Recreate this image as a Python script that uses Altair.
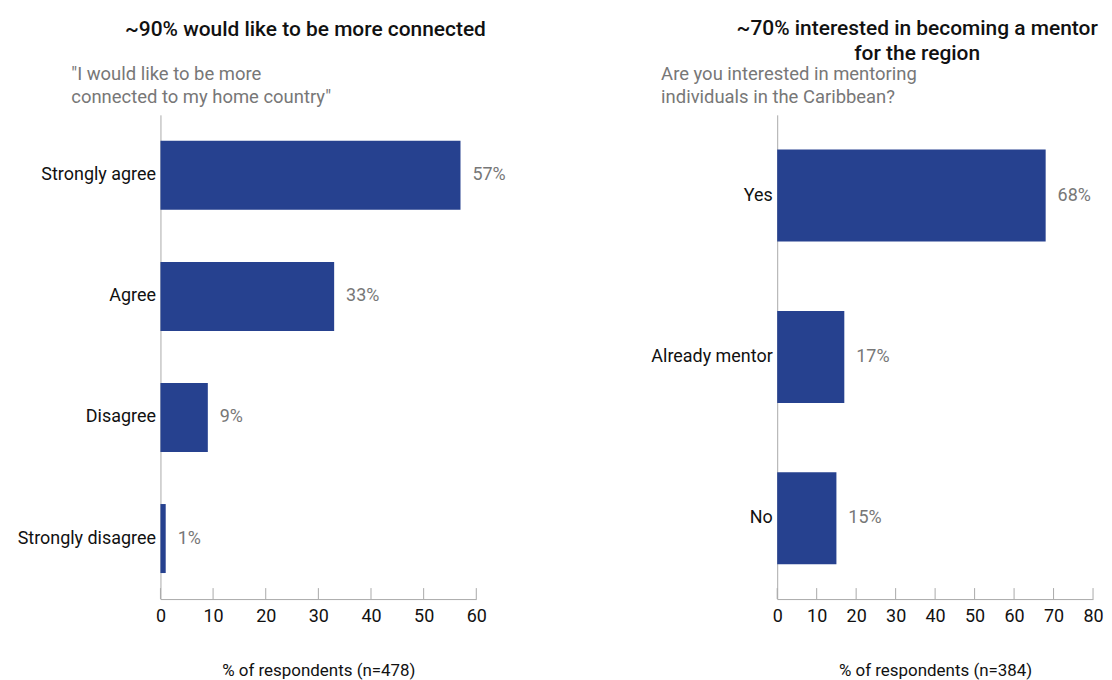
import altair as alt
import pandas as pd

# ---- data ----
left_categories = ["Strongly agree", "Agree", "Disagree", "Strongly disagree"]
left_values = [57, 33, 9, 1]
right_categories = ["Yes", "Already mentor", "No"]
right_values = [68, 17, 15]
left_ticks = [0, 10, 20, 30, 40, 50, 60]
right_ticks = [0, 10, 20, 30, 40, 50, 60, 70, 80]

FONT = "Roboto"
BAR = "#26418F"
GRAY_TEXT = "#777777"
AXIS_GRAY = "#AAAAAA"
W, H = 317, 486


def panel(cats, vals, ticks, xmax, title, subtitle, xtitle, sub_x, title_offset, title_dx):
    df = pd.DataFrame({"cat": cats, "val": vals})
    df["lab"] = df["val"].astype(str) + "%"
    tdf = pd.DataFrame({"t": ticks})
    xs = alt.Scale(domain=[0, xmax], nice=False, zero=True)
    ys = alt.Scale(domain=cats, paddingInner=0.43, paddingOuter=0.215)
    xaxis = alt.Axis(values=ticks, title=xtitle, grid=False, ticks=False,
                     domainColor=AXIS_GRAY, labelFont=FONT, labelFontSize=18,
                     labelColor="#111", labelPadding=9, labelOverlap=False,
                     labelFlush=False, labelSeparation=0, tickCount=len(ticks),
                     titleFont=FONT, titleFontSize=17, titleFontWeight="normal",
                     titleColor="#111", titlePadding=37)
    yaxis = alt.Axis(title=subtitle, ticks=False, domainColor=AXIS_GRAY,
                     labelFont=FONT, labelFontSize=18, labelColor="#111",
                     labelPadding=5, labelLimit=300,
                     titleAngle=0, titleAlign="left", titleBaseline="bottom",
                     titleX=sub_x, titleY=-31, titleFont=FONT,
                     titleFontSize=18.5, titleFontWeight="normal",
                     titleColor=GRAY_TEXT, titleLineHeight=23)

    bars = alt.Chart(df).mark_bar(color=BAR).encode(
        x=alt.X("val:Q", scale=xs, axis=xaxis),
        y=alt.Y("cat:N", scale=ys, sort=cats, axis=yaxis),
    )
    text = alt.Chart(df).mark_text(align="left", baseline="middle", dx=12,
                                   font=FONT, fontSize=18, color=GRAY_TEXT).encode(
        x=alt.X("val:Q", scale=xs, axis=xaxis),
        y=alt.Y("cat:N", scale=ys, sort=cats, axis=yaxis),
        text="lab:N",
    )
    tick_rules = alt.Chart(tdf).mark_rule(color=AXIS_GRAY, strokeWidth=1).encode(
        x=alt.X("t:Q", scale=xs, axis=xaxis),
        y=alt.value(H),
        y2=alt.value(H - 11),
    )
    return alt.layer(bars, text, tick_rules).properties(
        width=W, height=H,
        title=alt.TitleParams(text=title, font=FONT, fontSize=21, fontWeight=500,
                              color="#111", anchor="middle", dx=title_dx,
                              offset=title_offset, lineHeight=25),
    )


left = panel(left_categories, left_values, left_ticks, 60,
             "~90% would like to be more connected",
             ["\"I would like to be more", "connected to my home country\""],
             "% of respondents (n=478)", -90, 25, -13)
right = panel(right_categories, right_values, right_ticks, 80,
              ["~70% interested in becoming a mentor", "for the region"],
              ["Are you interested in mentoring", "individuals in the Caribbean?"],
              "% of respondents (n=384)", -117, 1, -18)

chart = alt.hconcat(left, right, spacing=302, bounds="flush").configure_view(
    stroke=None
).properties(padding={"left": 9, "top": 9, "right": 0, "bottom": 0})

chart.save("out.html", embed_options={"renderer": "svg", "actions": False})
